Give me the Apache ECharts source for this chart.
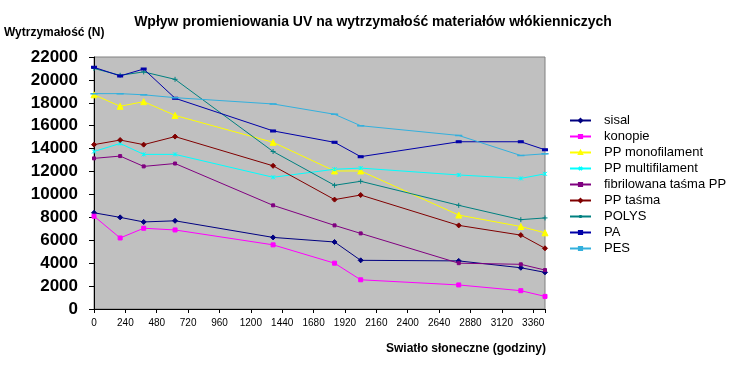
<!DOCTYPE html>
<html>
<head>
<meta charset="utf-8">
<script src="https://cdn.jsdelivr.net/npm/echarts@6/dist/echarts.min.js"></script>
<style>
  html, body { margin: 0; padding: 0; background: #fff; }
  #chart { width: 746px; height: 376px; }
</style>
</head>
<body>
<div id="chart"></div>
<script>
// godziny naświetlania (oś X)
const hours = [0, 200, 380, 620, 1370, 1840, 2040, 2790, 3265, 3450];

const seriesNames = ['sisal', 'konopie', 'PP monofilament', 'PP multifilament',
  'fibrilowana taśma PP', 'PP taśma', 'POLYS', 'PA', 'PES'];

const sisal = [8400, 8000, 7600, 7700, 6250, 5850, 4250, 4200, 3600, 3200];
const konopie = [8100, 6200, 7050, 6900, 5600, 4000, 2550, 2100, 1600, 1100];
const ppMono = [18700, 17700, 18100, 16900, 14550, 12050, 12050, 8200, 7200, 6650];
const ppMulti = [13750, 14450, 13500, 13500, 11500, 12200, 12300, 11700, 11400, 11800];
const fibril = [13150, 13350, 12450, 12700, 9050, 7300, 6600, 4000, 3900, 3400];
const ppTasma = [14350, 14750, 14350, 15050, 12500, 9550, 9950, 7300, 6450, 5300];
const polys = [21000, 20400, 20700, 20050, 13750, 10800, 11150, 9050, 7800, 7950];
const pa = [21100, 20350, 20950, 18400, 15550, 14550, 13300, 14600, 14600, 13900];
const pes = [18800, 18800, 18700, 18450, 17900, 17000, 16000, 15150, 13400, 13550];

const allValues = [sisal, konopie, ppMono, ppMulti, fibril, ppTasma, polys, pa, pes];
const colors = ['#000080', '#FF00FF', '#FFFF00', '#00FFFF', '#800080', '#800000', '#008080', '#0000A8', '#33B0DD'];

const symbols = [
  { s: 'diamond', size: 5 },
  { s: 'rect', size: 4 },
  { s: 'triangle', size: 6 },
  { s: 'path://M0,0L10,10M10,0L0,10M5,0L5,10', size: 4 },
  { s: 'rect', size: 3 },
  { s: 'diamond', size: 5 },
  { s: 'path://M5,0L5,10M0,5L10,5', size: 5 },
  { s: 'rect', size: [4, 2] },
  { s: 'rect', size: [5, 1] }
];

const FONT = 'Arial, "Liberation Sans", sans-serif';

const chart = echarts.init(document.getElementById('chart'), null, { renderer: 'canvas' });

let series = seriesNames.map(function (name, i) {
  return {
    name: name,
    type: 'line',
    data: hours.map(function (h, j) { return [h, allValues[i][j]]; }),
    symbol: symbols[i].s,
    symbolSize: symbols[i].size,
    showAllSymbol: true,
    animation: false,
    lineStyle: { color: colors[i], width: 1 },
    itemStyle: { color: colors[i], borderColor: colors[i], borderWidth: 1 },
    emphasis: { disabled: true }
  };
});

let option = {
  animation: false,
  title: [
    {
      text: 'Wpływ promieniowania UV na wytrzymałość materiałów włókienniczych',
      left: 'center', top: 15, padding: 0,
      textStyle: { fontFamily: FONT, fontSize: 14, fontWeight: 'bold', color: '#000' }
    },
    {
      text: 'Wytrzymałość (N)',
      left: 4, top: 27, padding: 0,
      textStyle: { fontFamily: FONT, fontSize: 12, fontWeight: 'bold', color: '#000' }
    },
    {
      text: 'Swiatło słoneczne (godziny)',
      right: 200, top: 343, padding: 0,
      textStyle: { fontFamily: FONT, fontSize: 12, fontWeight: 'bold', color: '#000' }
    }
  ],
  legend: {
    orient: 'vertical',
    left: 564, top: 108,
    itemWidth: 21, itemHeight: 4, itemGap: 1,
    data: seriesNames,
    textStyle: { fontFamily: FONT, fontSize: 13, color: '#000', padding: [0, 0, 0, 8], lineHeight: 15 }
  },
  grid: {
    left: 94, top: 57, right: 201, bottom: 67,
    show: true, backgroundColor: '#C0C0C0', borderColor: '#808080', borderWidth: 1,
    containLabel: false
  },
  xAxis: {
    type: 'value',
    min: 0, max: 3450, interval: 240,
    axisLine: { lineStyle: { color: '#000', width: 1 } },
    axisTick: { show: true, length: 4, lineStyle: { color: '#000' } },
    splitLine: { show: false },
    axisLabel: {
      fontFamily: FONT, fontSize: 10, color: '#000', margin: 9,
      formatter: function (v) { return v % 240 === 0 ? String(v) : ''; }
    }
  },
  yAxis: {
    type: 'value',
    min: 0, max: 22000, interval: 2000,
    axisLine: { show: true, lineStyle: { color: '#000', width: 1 } },
    axisTick: { show: true, length: 5, lineStyle: { color: '#000' } },
    splitLine: { show: false },
    axisLabel: {
      fontFamily: FONT, fontSize: 17, fontWeight: 'bold', color: '#000', margin: 16,
      formatter: function (v) { return String(v); }
    }
  },
  series: series
};

chart.setOption(option);
</script>
</body>
</html>
